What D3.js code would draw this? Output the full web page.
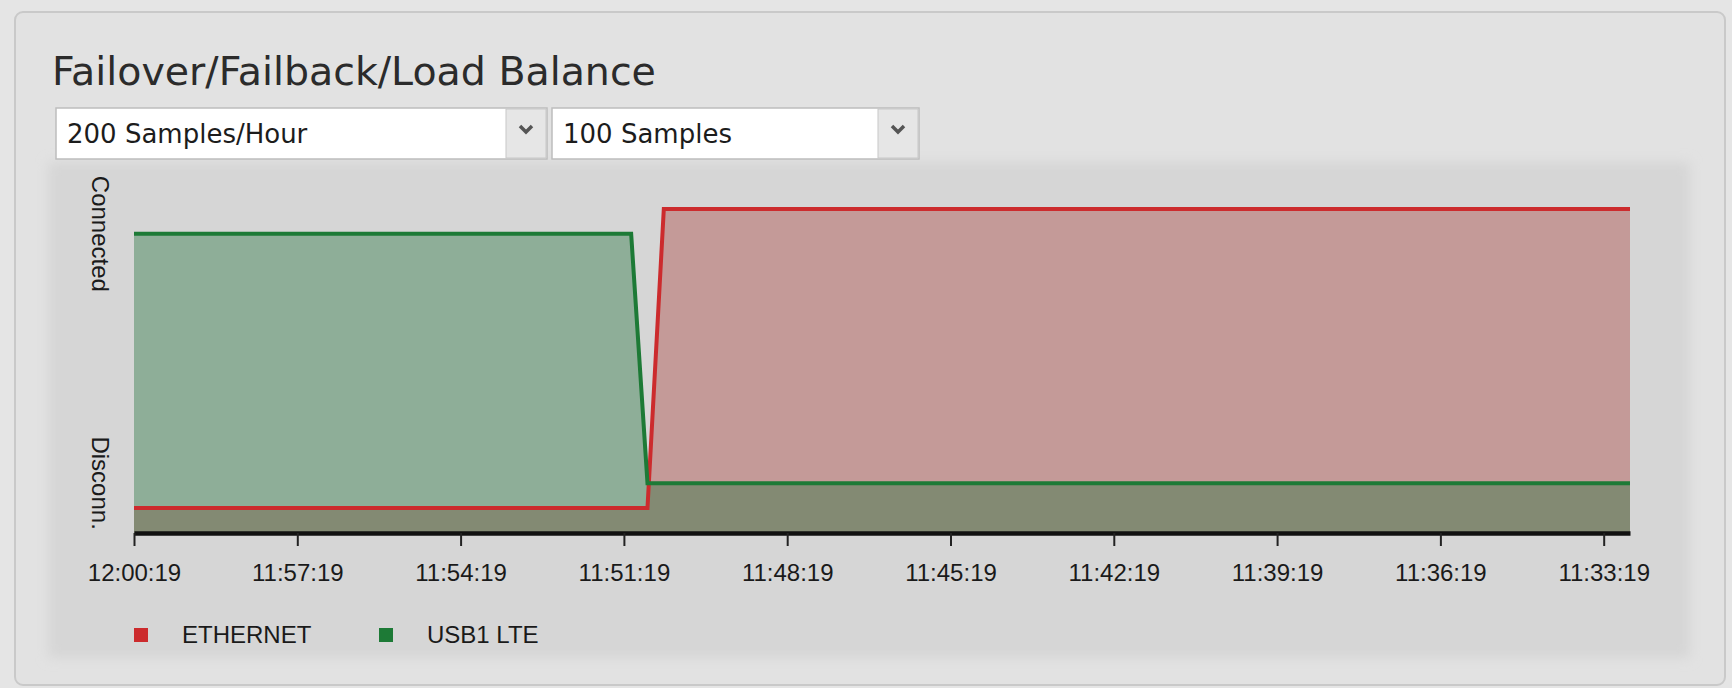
<!DOCTYPE html>
<html>
<head>
<meta charset="utf-8">
<script src="https://cdn.jsdelivr.net/npm/d3@7"></script>
<style>
  html, body { margin: 0; padding: 0; background: #e5e5e5; }
  svg { display: block; }
</style>
</head>
<body>
<svg id="chart"></svg>
<script>
// chart data
var title = "Failover/Failback/Load Balance";
var rateOptions = ["200 Samples/Hour"];
var countOptions = ["100 Samples"];

var sampleTimes = ["12:00:19", "11:51:11", "11:50:53", "11:50:35", "11:32:50"];
var ethernet = [-0.1, -0.1, -0.1, 1.1, 1.1];
var usb1Lte = [1, 1, 0, 0, 0];

var tickLabels = ["12:00:19", "11:57:19", "11:54:19", "11:51:19", "11:48:19",
                  "11:45:19", "11:42:19", "11:39:19", "11:36:19", "11:33:19"];
var stateValues = [0, 1];
var stateLabels = ["Disconn.", "Connected"];

var seriesNames = ["ETHERNET", "USB1 LTE"];
var seriesColors = ["#cc2b2d", "#1d7a36"];
var areaColors = ["#a9403b", "#24723b"];

//canvas info (don't name these top/left, window.top is read only)
var width = 1732;
var height = 688;
var plotLeft = 134, plotRight = 1630, plotTop = 184, plotBottom = 533;

var svg = d3.select("#chart")
    .attr("width", width)
    .attr("height", height);

var defs = svg.append("defs");
defs.append("filter").attr("id", "soft")
    .attr("x", "-5%").attr("y", "-5%").attr("width", "110%").attr("height", "110%")
    .append("feGaussianBlur").attr("stdDeviation", 6);

//panel background
svg.append("rect")
    .attr("x", 15).attr("y", 12).attr("width", 1710).attr("height", 673)
    .attr("rx", 8)
    .attr("fill", "#e2e2e2")
    .attr("stroke", "#c9c9c9")
    .attr("stroke-width", 2);

svg.append("rect")
    .attr("x", 48).attr("y", 162).attr("width", 1642).attr("height", 496)
    .attr("fill", "#d6d6d6")
    .attr("filter", "url(#soft)");

//title
svg.append("text")
    .attr("x", 52).attr("y", 85)
    .attr("font-family", "DejaVu Sans, sans-serif")
    .attr("font-size", 39.5)
    .attr("fill", "#2b2b2b")
    .text(title);

//select boxes
function drawSelect(x, w, label) {
    var g = svg.append("g").attr("transform", "translate(" + x + ",108)");
    g.append("rect")
        .attr("width", w).attr("height", 51)
        .attr("fill", "#ffffff")
        .attr("stroke", "#bdbdbd").attr("stroke-width", 1.5);
    g.append("rect")
        .attr("x", w - 41).attr("y", 1).attr("width", 40).attr("height", 49)
        .attr("fill", "#e6e6e6")
        .attr("stroke", "#c8c8c8").attr("stroke-width", 1);
    g.append("path")
        .attr("d", "M" + (w - 27) + ",18 l6,6 l6,-6")
        .attr("fill", "none")
        .attr("stroke", "#555")
        .attr("stroke-width", 3.5);
    g.append("text")
        .attr("x", 11).attr("y", 35)
        .attr("font-family", "DejaVu Sans, sans-serif")
        .attr("font-size", 26)
        .attr("fill", "#1c1c1c")
        .text(label);
}
drawSelect(56, 491, rateOptions[0]);
drawSelect(552, 367, countOptions[0]);

//scales
var parse = d3.timeParse("%H:%M:%S");
var times = sampleTimes.map(parse);
var x = d3.scaleTime()
    .domain([d3.max(times), d3.min(times)])
    .range([plotLeft, plotRight]);
var y = d3.scaleLinear()
    .domain([-0.2, 1.2])
    .range([plotBottom, plotTop]);

var seriesData = [ethernet, usb1Lte].map(function(vals) {
    return vals.map(function(v, i) { return {t: times[i], v: v}; });
});

var area = d3.area()
    .x(function(d) { return x(d.t); })
    .y0(y(-0.2))
    .y1(function(d) { return y(d.v); });
var line = d3.line()
    .x(function(d) { return x(d.t); })
    .y(function(d) { return y(d.v); });

seriesData.forEach(function(s, i) {
    svg.append("path")
        .datum(s)
        .attr("d", area)
        .attr("fill", areaColors[i])
        .attr("fill-opacity", 0.4);
});
seriesData.forEach(function(s, i) {
    svg.append("path")
        .datum(s)
        .attr("d", line)
        .attr("fill", "none")
        .attr("stroke", seriesColors[i])
        .attr("stroke-width", 4);
});

//x axis
var xAxis = svg.append("g")
    .attr("transform", "translate(0," + plotBottom + ")")
    .call(d3.axisBottom(x)
        .tickValues(tickLabels.map(parse))
        .tickFormat(d3.timeFormat("%H:%M:%S"))
        .tickSize(13)
        .tickSizeOuter(0)
        .tickPadding(18));
xAxis.select(".domain").attr("stroke", "#111").attr("stroke-width", 4.5);
xAxis.selectAll(".tick line").attr("stroke", "#222").attr("stroke-width", 2);
xAxis.selectAll(".tick text")
    .attr("font-family", "Liberation Sans, Arial, sans-serif")
    .attr("font-size", 24)
    .attr("fill", "#1a1a1a");

//y labels
svg.append("g").selectAll("text")
    .data(stateValues)
    .enter().append("text")
    .attr("transform", function(d) { return "translate(100," + y(d) + ") rotate(90)"; })
    .attr("dy", "0.35em")
    .attr("text-anchor", "middle")
    .attr("font-family", "Liberation Sans, Arial, sans-serif")
    .attr("font-size", 24)
    .attr("fill", "#1a1a1a")
    .text(function(d, i) { return stateLabels[i]; });

//legend
var legendX = [134, 379];
var legend = svg.append("g").selectAll("g")
    .data(seriesNames)
    .enter().append("g")
    .attr("transform", function(d, i) { return "translate(" + legendX[i] + ",628)"; });
legend.append("rect")
    .attr("width", 14).attr("height", 14)
    .attr("fill", function(d, i) { return seriesColors[i]; });
legend.append("text")
    .attr("x", 48).attr("y", 7)
    .attr("dy", "0.35em")
    .attr("font-family", "Liberation Sans, Arial, sans-serif")
    .attr("font-size", 24)
    .attr("fill", "#1a1a1a")
    .text(function(d) { return d; });
</script>
</body>
</html>
